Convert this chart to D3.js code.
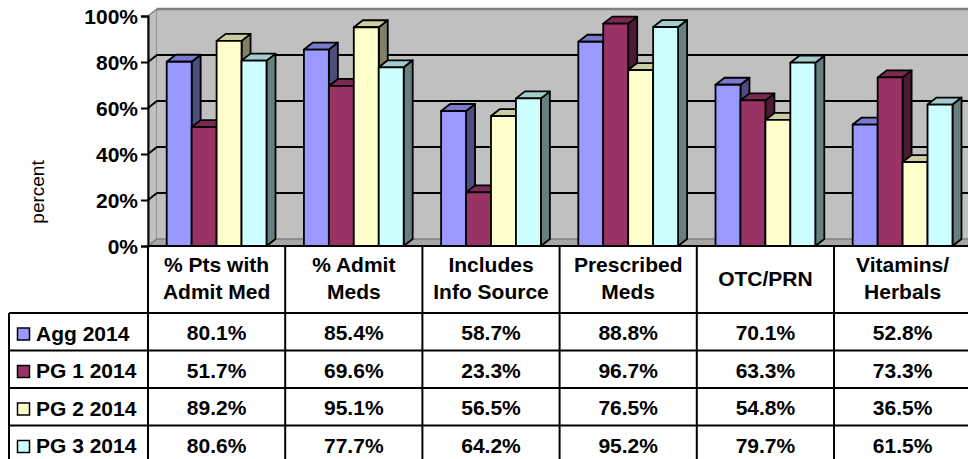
<!DOCTYPE html>
<html>
<head>
<meta charset="utf-8">
<script src="https://cdn.jsdelivr.net/npm/d3@7"></script>
<style>
  body { margin: 0; background: #fff; }
  text { font-family: "Liberation Sans", Arial, sans-serif; }
</style>
</head>
<body>
<div id="chart"></div>
<script>
// data
var categories = [["% Pts with", "Admit Med"], ["% Admit", "Meds"], ["Includes", "Info Source"],
                  ["Prescribed", "Meds"], ["OTC/PRN"], ["Vitamins/", "Herbals"]];
var seriesNames = ["Agg 2014", "PG 1 2014", "PG 2 2014", "PG 3 2014"];
var agg2014 = [80.1, 85.4, 58.7, 88.8, 70.1, 52.8];
var pg1_2014 = [51.7, 69.6, 23.3, 96.7, 63.3, 73.3];
var pg2_2014 = [89.2, 95.1, 56.5, 76.5, 54.8, 36.5];
var pg3_2014 = [80.6, 77.7, 64.2, 95.2, 79.7, 61.5];
var yTicks = [0, 20, 40, 60, 80, 100];

var seriesValues = [agg2014, pg1_2014, pg2_2014, pg3_2014];
var colors = ["#9999ff", "#993366", "#ffffcc", "#ccffff"];

var width = 968, height = 459;
var dx = 9, dy = 7;        // 3d depth
var rowH = 37.5;
var headTop = 246, headBottom = 313;
var fs = "21px";

var svg = d3.select("#chart").append("svg").attr("width", width).attr("height", height);

var catIds = d3.range(categories.length);
var x = d3.scaleBand().domain(catIds).range([148, 148 + 137.2 * categories.length]);
var xs = d3.scaleBand().domain(d3.range(seriesNames.length)).range([0, x.bandwidth()]).paddingOuter(0.75);
var y = d3.scaleLinear().domain([0, 100]).range([246, 16]);

var x0 = x.range()[0], x1 = x.range()[1];

// side wall + back wall
svg.append("polygon")
    .attr("points", [[x0, y(100)], [x0 + dx, y(100) - dy], [x0 + dx, y(0) - dy], [x0, y(0)]].join(" "))
    .attr("fill", "#c0c0c0").attr("stroke", "#808080").attr("stroke-width", 1.5);
svg.append("rect")
    .attr("x", x0 + dx).attr("y", y(100) - dy).attr("width", x1 - x0).attr("height", y(0) - y(100))
    .attr("fill", "#c0c0c0");
svg.append("line")
    .attr("x1", x0 + dx).attr("x2", x1 + dx).attr("y1", y(100) - dy).attr("y2", y(100) - dy)
    .attr("stroke", "#808080").attr("stroke-width", 2.5);

// floor
svg.append("polygon")
    .attr("points", [[x0, y(0)], [x0 + dx, y(0) - dy], [x1 + dx, y(0) - dy], [x1, y(0)]].join(" "))
    .attr("fill", "#a6a6a6").attr("stroke", "#808080").attr("stroke-width", 1.5);

// gridlines
yTicks.filter(function(t){ return t > 0 && t < 100; }).forEach(function(t){
    svg.append("polyline")
        .attr("points", [[x0, y(t)], [x0 + dx, y(t) - dy], [x1 + dx, y(t) - dy]].join(" "))
        .attr("fill", "none").attr("stroke", "#000").attr("stroke-width", 2);
});

// bars
catIds.forEach(function(c){
    seriesValues.forEach(function(vals, s){
        var bx = x(c) + xs(s), bw = xs.bandwidth();
        var top = y(vals[c]), bot = y(0);
        var col = d3.color(colors[s]);
        var g = svg.append("g").attr("stroke", "#000").attr("stroke-width", 1.8).attr("stroke-linejoin", "round");
        g.append("polygon")
            .attr("points", [[bx + bw, top], [bx + bw + dx, top - dy], [bx + bw + dx, bot - dy], [bx + bw, bot]].join(" "))
            .attr("fill", d3.rgb(col.r * 0.5, col.g * 0.5, col.b * 0.5));
        g.append("polygon")
            .attr("points", [[bx, top], [bx + dx, top - dy], [bx + bw + dx, top - dy], [bx + bw, top]].join(" "))
            .attr("fill", d3.rgb(col.r * 0.8, col.g * 0.8, col.b * 0.8));
        g.append("rect").attr("x", bx).attr("y", top).attr("width", bw).attr("height", bot - top)
            .attr("fill", colors[s]);
    });
});

// y axis
var yAxis = d3.axisLeft(y).tickValues(yTicks).tickSize(7).tickPadding(3)
    .tickFormat(function(d){ return d + "%"; });
var yg = svg.append("g").attr("transform", "translate(" + x0 + ",0)").call(yAxis);
yg.select(".domain").attr("stroke", "#000").attr("stroke-width", 2);
yg.selectAll(".tick line").attr("stroke", "#000").attr("stroke-width", 2);
yg.selectAll(".tick text").attr("font-size", fs).attr("font-weight", "bold")
    .attr("fill", "#000").attr("dy", "0.36em").style("font-family", "'Liberation Sans', Arial, sans-serif");

svg.append("text")
    .attr("transform", "translate(44,192) rotate(-90)")
    .attr("text-anchor", "middle").attr("font-size", "19px").text("percent");

// data table
var tbl = svg.append("g").attr("stroke", "#000").attr("stroke-width", 2);
tbl.append("line").attr("x1", x0).attr("x2", x1).attr("y1", headTop).attr("y2", headTop);
x.domain().concat([categories.length]).forEach(function(c){
    var lx = c < categories.length ? x(c) : x1;
    tbl.append("line").attr("x1", lx).attr("x2", lx).attr("y1", headTop).attr("y2", height + 10);
});
seriesNames.forEach(function(n, s){
    var ly = headBottom + s * rowH;
    tbl.append("line").attr("x1", 9).attr("x2", x1).attr("y1", ly).attr("y2", ly);
});
tbl.append("line").attr("x1", 9).attr("x2", 9).attr("y1", headBottom).attr("y2", height + 10);

// header labels
categories.forEach(function(lines, c){
    var cx = x(c) + x.bandwidth() / 2;
    var t = svg.append("text").attr("text-anchor", "middle").attr("font-size", fs).attr("font-weight", "bold");
    var start = lines.length == 1 ? 286 : 272;
    lines.forEach(function(l, i){
        t.append("tspan").attr("x", cx).attr("y", start + i * 27).text(l);
    });
});

// legend column + values
seriesNames.forEach(function(n, s){
    var rowTop = headBottom + s * rowH;
    svg.append("rect").attr("x", 17.5).attr("y", rowTop + 15).attr("width", 12).attr("height", 12)
        .attr("fill", colors[s]).attr("stroke", "#000").attr("stroke-width", 1.5);
    svg.append("text").attr("x", 36).attr("y", rowTop + 27.5)
        .attr("font-size", fs).attr("font-weight", "bold").text(n);
    seriesValues[s].forEach(function(v, c){
        svg.append("text").attr("x", x(c) + x.bandwidth() / 2).attr("y", rowTop + 27)
            .attr("text-anchor", "middle").attr("font-size", fs).attr("font-weight", "bold")
            .text(v.toFixed(1) + "%");
    });
});
</script>
</body>
</html>
